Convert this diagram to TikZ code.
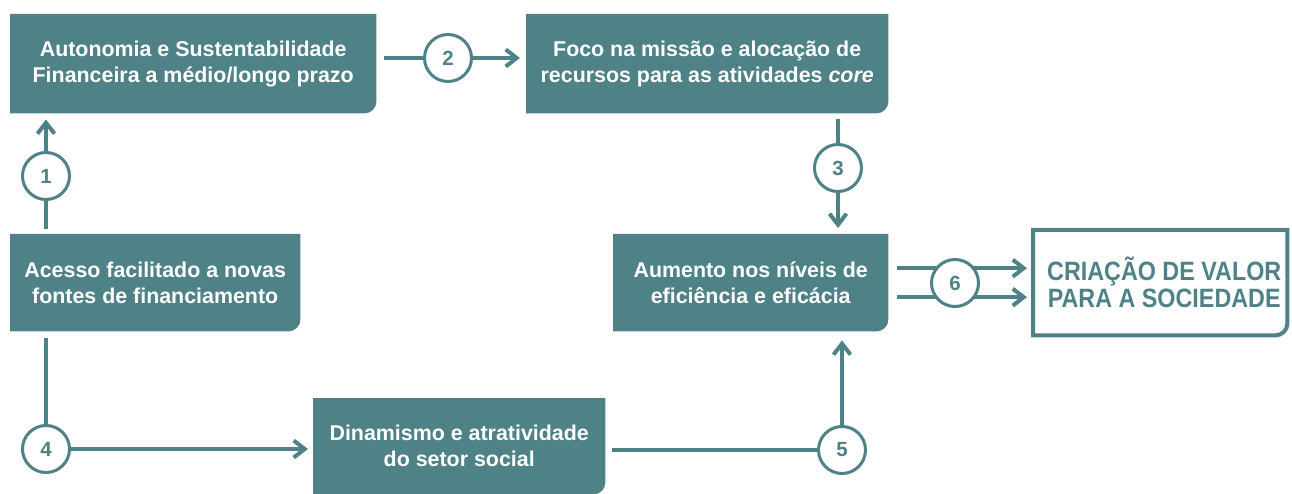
\documentclass[tikz,border=0pt]{standalone}
\usepackage{fontspec}
\setmainfont{Liberation Sans}
\newfontfamily\condfont[FakeStretch=0.88]{Liberation Sans Bold}
\usetikzlibrary{arrows.meta,backgrounds}
\definecolor{teal1}{RGB}{78,130,134}
\begin{document}
\begin{tikzpicture}[x=1pt,y=-1pt,
  tbox/.style={anchor=north west, inner sep=0pt, text=white,
    font=\fontsize{21.4}{26}\selectfont\bfseries, align=center},
  obox/.style={anchor=north west, inner sep=0pt, text=teal1,
    font=\condfont\fontsize{26.5}{27}\selectfont, align=center},
  num/.style={circle, draw=teal1, line width=3pt, fill=white,
    minimum size=47pt, inner sep=0pt, text=teal1,
    font=\fontsize{20.5}{20.5}\selectfont\bfseries},
  conn/.style={draw=teal1, line width=4pt},
  arr/.style={conn, -{Straight Barb[length=11pt,width=17pt]}}
]
\useasboundingbox (0,0) rectangle (1292,494);

\node[tbox, minimum width=366pt, minimum height=99pt] (A) at (10,14)
  {Autonomia e Sustentabilidade\\Financeira a médio/longo prazo};
\node[tbox, minimum width=362pt, minimum height=99pt] (B) at (526,14)
  {Foco na missão e alocação de\\recursos para as atividades \textit{core}};
\node[tbox, minimum width=290pt, minimum height=97pt] (C) at (10,234)
  {Acesso facilitado a novas\\fontes de financiamento};
\node[tbox, minimum width=275pt, minimum height=97pt] (D) at (613,234)
  {Aumento nos níveis de\\eficiência e eficácia};
\node[tbox, minimum width=292pt, minimum height=96pt] (E) at (313,398)
  {Dinamismo e atratividade\\do setor social};
\node[obox, minimum width=254pt, minimum height=105pt] (F) at (1033,230)
  {\hspace*{8pt}CRIAÇÃO DE VALOR\\\hspace*{8pt}PARA A SOCIEDADE};

\node[num] (n1) at (46,176) {1};
\node[num] (n2) at (448,58) {2};
\node[num] (n3) at (838,168) {3};
\node[num] (n4) at (46,449) {4};
\node[num] (n5) at (842,450) {5};
\node[num] (n6) at (955,283) {6};

\begin{pgfonlayer}{background}
  \foreach \n in {A,B,C,D,E} {
    \fill[teal1] (\n.north west) -- (\n.north east) -- ([yshift=12pt]\n.south east)
      arc[start angle=0, end angle=-90, radius=12pt] -- (\n.south west) -- cycle;
  }
  \draw[teal1, line width=4pt] (F.north west) -- (F.north east) -- ([yshift=12pt]F.south east)
      arc[start angle=0, end angle=-90, radius=12pt] -- (F.south west) -- cycle;

  \draw[arr, shorten <=5pt, shorten >=6pt] (n1 |- C.north) -- (n1 |- A.south);
  \draw[arr, shorten <=8pt, shorten >=6pt] (A.east |- n2) -- (n2 -| B.west);
  \draw[arr, shorten <=6pt, shorten >=6pt] (n3 |- B.south) -- (n3 |- D.north);
  \draw[arr, shorten <=7pt, shorten >=5pt] (n4 |- C.south) -- (n4.center) -- (n4 -| E.west);
  \draw[arr, shorten <=7pt, shorten >=9pt] (E.east |- n5) -- (n5.center) -- (n5 |- D.south);
  \draw[arr, shorten <=9pt, shorten >=6pt] ([yshift=14.5pt]D.east) -- ([yshift=14.5pt]D.east -| F.west);
  \draw[arr, shorten <=9pt, shorten >=6pt] ([yshift=-14.5pt]D.east) -- ([yshift=-14.5pt]D.east -| F.west);
\end{pgfonlayer}
\end{tikzpicture}
\end{document}
